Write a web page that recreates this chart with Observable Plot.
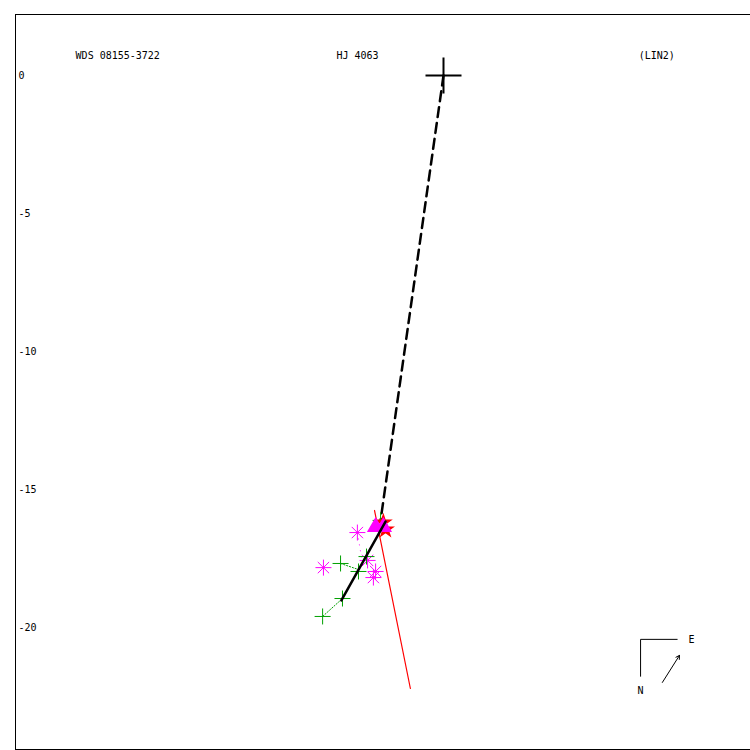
<!DOCTYPE html>
<html>
<head>
<meta charset="utf-8">
<script src="https://cdn.jsdelivr.net/npm/d3@7"></script>
<script src="https://cdn.jsdelivr.net/npm/@observablehq/plot@0.6"></script>
<style>
  html, body { margin: 0; padding: 0; background: #fff; }
  svg { display: block; }
</style>
</head>
<body>
<div id="chart"></div>
<script>
// ---- data (arcsec) ----
const primary = [{x: 0, y: 0}];
const dashedLine = [{x: 0, y: 0}, {x: -2.28, y: -16.12}];
const orbitLine = [{x: -3.70, y: -19.02}, {x: -2.10, y: -16.16}];
const redLine = [{x: -2.50, y: -15.76}, {x: -1.20, y: -22.21}];
const redStars = [{x: -2.18, y: -16.20}, {x: -2.10, y: -16.45}];
const triangles = [{x: -2.46, y: -16.36}, {x: -2.18, y: -16.36}];
const asterisks = [
  {x: -3.12, y: -16.56}, {x: -4.35, y: -17.83}, {x: -2.75, y: -17.57},
  {x: -2.46, y: -17.97}, {x: -2.54, y: -18.19}
];
const greenCrosses = [
  {x: -2.28, y: -16.12}, {x: -3.73, y: -17.68}, {x: -3.08, y: -17.97},
  {x: -2.79, y: -17.43}, {x: -3.66, y: -18.95}, {x: -4.38, y: -19.60}
];
const greenResiduals = [
  {x1: -4.38, y1: -19.60, x2: -3.66, y2: -18.95},
  {x1: -3.73, y1: -17.68, x2: -3.08, y2: -17.90}
];
const magentaResiduals = [{x1: -3.12, y1: -16.56, x2: -2.97, y2: -17.46}];
const yTicks = [0, -5, -10, -15, -20];
const titles = [
  {text: "WDS 08155-3722", x: -13.33},
  {text: "HJ 4063", x: -3.88},
  {text: "(LIN2)", x: 7.07}
];
const titleY = 0.72;
const tickLabelX = -15.40;
// compass annotation
const compassLines = [
  {x1: 7.14, y1: -20.43, x2: 7.14, y2: -21.78},
  {x1: 7.14, y1: -20.43, x2: 8.48, y2: -20.43}
];
const compassArrow = [{x1: 7.93, y1: -21.99, x2: 8.55, y2: -21.01}];
const compassLabels = [
  {text: "E", x: 8.88, y: -20.43},
  {text: "N", x: 7.03, y: -22.28}
];

// ---- custom stroked symbols ----
const plusSym = {draw(ctx, size) {
  const r = Math.sqrt(size / Math.PI);
  ctx.moveTo(-r, 0); ctx.lineTo(r, 0);
  ctx.moveTo(0, -r); ctx.lineTo(0, r);
}};
const star8 = {draw(ctx, size) {
  const r = Math.sqrt(size / Math.PI);
  for (let i = 0; i < 4; i++) {
    const a = i * Math.PI / 4;
    ctx.moveTo(r * Math.cos(a), r * Math.sin(a));
    ctx.lineTo(-r * Math.cos(a), -r * Math.sin(a));
  }
}};

const font = "DejaVu Sans Mono, monospace";

const chart = Plot.plot({
  width: 750,
  height: 750,
  marginLeft: 15,
  marginTop: 14,
  marginRight: 0,
  marginBottom: 1,
  style: {fontFamily: font, fontSize: "10px", background: "#fff", color: "#000"},
  x: {domain: [-15.507, 11.123], axis: null},
  y: {domain: [-24.42, 2.21], axis: null},
  marks: [
    Plot.frame({stroke: "black", strokeWidth: 1}),
    Plot.text(yTicks, {x: () => tickLabelX, y: d => d, text: d => String(d), textAnchor: "start", fontSize: 10}),
    Plot.text(titles, {x: "x", y: () => titleY, text: "text", textAnchor: "start", fontSize: 10}),
    Plot.line(dashedLine, {x: "x", y: "y", stroke: "black", strokeWidth: 2.5, strokeDasharray: "10,6"}),
    Plot.line(redLine, {x: "x", y: "y", stroke: "red", strokeWidth: 1.2}),
    Plot.link(greenResiduals, {x1: "x1", y1: "y1", x2: "x2", y2: "y2", stroke: "#00a000", strokeWidth: 1, strokeDasharray: "2,1"}),
    Plot.link(magentaResiduals, {x1: "x1", y1: "y1", x2: "x2", y2: "y2", stroke: "magenta", strokeWidth: 1, strokeDasharray: "1,5"}),
    Plot.dot(asterisks, {x: "x", y: "y", r: 8, symbol: star8, stroke: "magenta", strokeWidth: 1}),
    Plot.dot(greenCrosses, {x: "x", y: "y", r: 8, symbol: plusSym, stroke: "#00a000", strokeWidth: 1}),
    Plot.dot(redStars, {x: "x", y: "y", r: 4.5, symbol: "star", fill: "red", stroke: "red"}),
    Plot.dot(triangles, {x: "x", y: "y", r: 5.5, symbol: "triangle", fill: "magenta", stroke: "magenta"}),
    Plot.line(orbitLine, {x: "x", y: "y", stroke: "black", strokeWidth: 2.5}),
    Plot.dot(primary, {x: "x", y: "y", r: 18, symbol: plusSym, stroke: "black", strokeWidth: 2}),
    Plot.link(compassLines, {x1: "x1", y1: "y1", x2: "x2", y2: "y2", stroke: "black", strokeWidth: 1}),
    Plot.arrow(compassArrow, {x1: "x1", y1: "y1", x2: "x2", y2: "y2", stroke: "black", strokeWidth: 1, headLength: 6}),
    Plot.text(compassLabels, {x: "x", y: "y", text: "text", textAnchor: "start", fontSize: 10})
  ]
});
document.getElementById("chart").appendChild(chart);
</script>
</body>
</html>
